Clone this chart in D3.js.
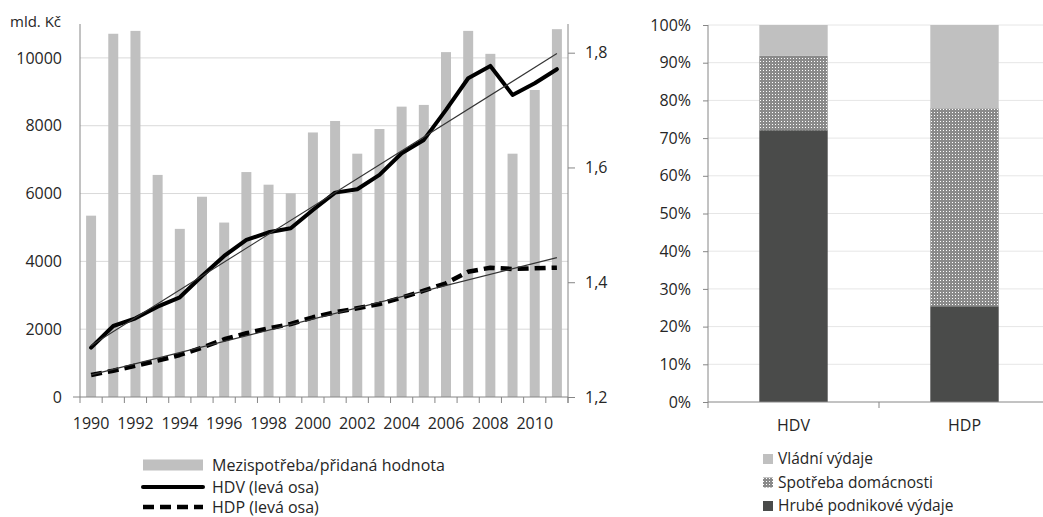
<!DOCTYPE html>
<html>
<head>
<meta charset="utf-8">
<script src="https://cdn.jsdelivr.net/npm/d3@7"></script>
<style>
  html, body { margin: 0; padding: 0; background: #fff; }
  svg { display: block; font-family: "Open Sans", sans-serif; }
  text { fill: #262626; }
</style>
</head>
<body>
<svg id="chart" width="1043" height="517"></svg>
<script>
// ---- data ----
const years = d3.range(1990, 2012);
// Mezispotřeba / přidaná hodnota (pravá osa)
const ratio = [1.516, 1.833, 1.838, 1.587, 1.493, 1.549, 1.504, 1.592, 1.570, 1.555, 1.661,
               1.681, 1.624, 1.667, 1.706, 1.709, 1.801, 1.838, 1.798, 1.624, 1.735, 1.841];
// HDV, mld. Kč (levá osa)
const hdv = [1455, 2094, 2321, 2664, 2940, 3569, 4159, 4631, 4858, 4976, 5516,
             6027, 6127, 6549, 7189, 7581, 8466, 9400, 9764, 8909, 9254, 9667];
// HDP, mld. Kč (levá osa)
const hdp = [649, 776, 923, 1071, 1239, 1455, 1702, 1879, 2026, 2153, 2351,
             2498, 2616, 2743, 2929, 3136, 3354, 3696, 3814, 3776, 3796, 3814];
const leftTicks = [0, 2000, 4000, 6000, 8000, 10000];
const leftDomain = [0, 11000];
const rightTicks = [1.2, 1.4, 1.6, 1.8];
const rightDomain = [1.2, 1.85];
const yearLabels = years.filter(y => y % 2 === 0);

// struktura (podíly v %)
const groups = ["HDV", "HDP"];
const business = [72.1, 25.4];
const households = [19.7, 52.5];
const government = [8.2, 22.1];
const pctTicks = d3.range(0, 101, 10);

const seriesNames = ["Hrubé podnikové výdaje", "Spotřeba domácnosti", "Vládní výdaje"];

const svg = d3.select("#chart");
const defs = svg.append("defs");
const pat = defs.append("pattern").attr("id", "dots")
  .attr("width", 3).attr("height", 3).attr("patternUnits", "userSpaceOnUse");
pat.append("rect").attr("width", 3).attr("height", 3).attr("fill", "#8a8a8a");
pat.append("rect").attr("x", 1).attr("y", 1).attr("width", 1).attr("height", 1).attr("fill", "#ffffff");

const axisCol = "#868686", gridCol = "#d9d9d9", barCol = "#c0c0c0";
const tickFont = g => g.selectAll("text").attr("font-size", 16).attr("fill", "#262626").attr("font-family", "Open Sans");

// ---------- levý graf ----------
const L = { x0: 80, x1: 568, y0: 397, y1: 24 };
const xb = d3.scaleBand().domain(years).range([L.x0, L.x1]).paddingInner(0.55).paddingOuter(0.275);
const xc = y => xb(y) + xb.bandwidth() / 2;
const yl = d3.scaleLinear().domain(leftDomain).range([L.y0, L.y1]);
const yr = d3.scaleLinear().domain(rightDomain).range([L.y0, L.y1]);

const left = svg.append("g");

// mřížka
left.append("g").selectAll("line").data(leftTicks.filter(d => d > 0)).join("line")
  .attr("x1", L.x0).attr("x2", L.x1).attr("y1", d => yl(d)).attr("y2", d => yl(d))
  .attr("stroke", gridCol).attr("stroke-width", 1);

// sloupce – poměr mezispotřeby k přidané hodnotě
left.append("g").selectAll("rect").data(years).join("rect")
  .attr("x", d => xb(d)).attr("width", xb.bandwidth())
  .attr("y", (d, i) => yr(ratio[i])).attr("height", (d, i) => yr(rightDomain[0]) - yr(ratio[i]))
  .attr("fill", barCol);

// lineární trendy (metoda nejmenších čtverců)
function trend(vals) {
  const n = vals.length, mx = (n - 1) / 2, my = d3.mean(vals);
  let sxy = 0, sxx = 0;
  vals.forEach((v, i) => { sxy += (i - mx) * (v - my); sxx += (i - mx) * (i - mx); });
  const b = sxy / sxx, a = my - b * mx;
  return [a, a + b * (n - 1)];
}
const line = d3.line().x((d, i) => xc(years[i])).y(d => yl(d));

left.append("path").datum(hdv).attr("d", line)
  .attr("fill", "none").attr("stroke", "#000").attr("stroke-width", 4)
  .attr("stroke-linejoin", "round").attr("stroke-linecap", "round");
left.append("path").datum(hdp).attr("d", line)
  .attr("fill", "none").attr("stroke", "#000").attr("stroke-width", 4.5)
  .attr("stroke-dasharray", "11,6").attr("stroke-linejoin", "round");

[hdv, hdp].forEach(vals => {
  const t = trend(vals);
  left.append("line")
    .attr("x1", xc(years[0])).attr("x2", xc(years[years.length - 1]))
    .attr("y1", yl(t[0])).attr("y2", yl(t[1]))
    .attr("stroke", "#333").attr("stroke-width", 1.1);
});

// osy
const yAxisL = d3.axisLeft(yl).tickValues(leftTicks).tickSize(0).tickPadding(18).tickFormat(d3.format("d"));
left.append("g").attr("transform", `translate(${L.x0},0)`).call(yAxisL)
  .call(g => g.select(".domain").attr("stroke", axisCol).attr("d", `M0,${L.y1}V${L.y0}`))
  .call(tickFont);

const yAxisR = d3.axisRight(yr).tickValues(rightTicks).tickSize(7).tickPadding(10)
  .tickFormat(d => d3.format(".1f")(d).replace(".", ","));
left.append("g").attr("transform", `translate(${L.x1},0)`).call(yAxisR)
  .call(g => g.select(".domain").attr("stroke", axisCol).attr("d", `M0,${L.y1}V${L.y0 + 6}`))
  .call(g => g.selectAll(".tick line").attr("stroke", axisCol))
  .call(tickFont);

// vodorovná osa
left.append("line").attr("x1", L.x0 - 7).attr("x2", L.x1).attr("y1", L.y0).attr("y2", L.y0)
  .attr("stroke", axisCol);
left.append("g").selectAll("line").data(d3.range(years.length + 1)).join("line")
  .attr("x1", i => L.x0 + i * xb.step()).attr("x2", i => L.x0 + i * xb.step())
  .attr("y1", L.y0).attr("y2", L.y0 + 6).attr("stroke", axisCol);
const xAxis = d3.axisBottom(xb).tickValues(yearLabels).tickSize(0).tickPadding(21);
left.append("g").attr("transform", `translate(0,${L.y0})`).call(xAxis)
  .call(g => g.select(".domain").remove())
  .call(tickFont);

left.append("text").attr("x", 10).attr("y", 27).attr("font-size", 15).text("mld. Kč");

// legenda vlevo
const lg = svg.append("g");
const legY = [465, 487, 507];
lg.append("rect").attr("x", 143).attr("y", legY[0] - 5.5).attr("width", 60).attr("height", 11).attr("fill", barCol);
lg.append("line").attr("x1", 143).attr("x2", 203).attr("y1", legY[1]).attr("y2", legY[1])
  .attr("stroke", "#000").attr("stroke-width", 4).attr("stroke-linecap", "round");
lg.append("line").attr("x1", 143).attr("x2", 203).attr("y1", legY[2]).attr("y2", legY[2])
  .attr("stroke", "#000").attr("stroke-width", 4.5).attr("stroke-dasharray", "11,6");
lg.selectAll("text").data(["Mezispotřeba/přidaná hodnota", "HDV (levá osa)", "HDP (levá osa)"]).join("text")
  .attr("x", 212).attr("y", (d, i) => legY[i]).attr("dy", "0.35em")
  .attr("font-size", 16).text(d => d);

// ---------- pravý graf ----------
const R = { x0: 708, x1: 1050, y0: 402, y1: 25 };
const xg = d3.scaleBand().domain(groups).range([R.x0, R.x1]).paddingInner(0.6).paddingOuter(0.3);
const yp = d3.scaleLinear().domain([0, 100]).range([R.y0, R.y1]);

const right = svg.append("g");
right.append("g").selectAll("line").data(pctTicks.filter(d => d > 0)).join("line")
  .attr("x1", R.x0).attr("x2", R.x1).attr("y1", d => yp(d)).attr("y2", d => yp(d))
  .attr("stroke", "#e6e6e6");

const rows = groups.map((g, i) => ({ g, b: business[i], h: households[i], v: government[i] }));
const stack = d3.stack().keys(["b", "h", "v"])(rows);
const fills = { b: "#4a4b4a", h: "url(#dots)", v: "#c0c0c0" };
right.append("g").selectAll("g").data(stack).join("g").attr("fill", s => fills[s.key])
  .selectAll("rect").data(s => s).join("rect")
  .attr("x", d => xg(d.data.g)).attr("width", xg.bandwidth())
  .attr("y", d => yp(d[1])).attr("height", d => yp(d[0]) - yp(d[1]));

const yAxisP = d3.axisLeft(yp).tickValues(pctTicks).tickSize(5).tickPadding(12).tickFormat(d => d + "%");
right.append("g").attr("transform", `translate(${R.x0},0)`).call(yAxisP)
  .call(g => g.select(".domain").attr("stroke", axisCol).attr("d", `M0,${R.y1}V${R.y0}`))
  .call(g => g.selectAll(".tick line").attr("stroke", axisCol))
  .call(tickFont);

right.append("line").attr("x1", R.x0).attr("x2", R.x1).attr("y1", R.y0).attr("y2", R.y0).attr("stroke", axisCol);
right.append("g").selectAll("line").data(d3.range(groups.length + 1)).join("line")
  .attr("x1", i => R.x0 + i * xg.step()).attr("x2", i => R.x0 + i * xg.step())
  .attr("y1", R.y0).attr("y2", R.y0 + 6).attr("stroke", axisCol);
right.append("g").attr("transform", `translate(0,${R.y0})`)
  .call(d3.axisBottom(xg).tickSize(0).tickPadding(18))
  .call(g => g.select(".domain").remove())
  .call(tickFont);

// legenda vpravo
const rl = svg.append("g");
const legRows = [
  { name: seriesNames[2], fill: fills.v },
  { name: seriesNames[1], fill: fills.h },
  { name: seriesNames[0], fill: fills.b }
];
rl.selectAll("rect").data(legRows).join("rect")
  .attr("x", 763).attr("y", (d, i) => 454 + i * 23.5).attr("width", 10).attr("height", 10)
  .attr("fill", d => d.fill);
rl.selectAll("text").data(legRows).join("text")
  .attr("x", 778).attr("y", (d, i) => 459 + i * 23.5).attr("dy", "0.35em")
  .attr("font-size", 15.5).text(d => d.name);
</script>
</body>
</html>
